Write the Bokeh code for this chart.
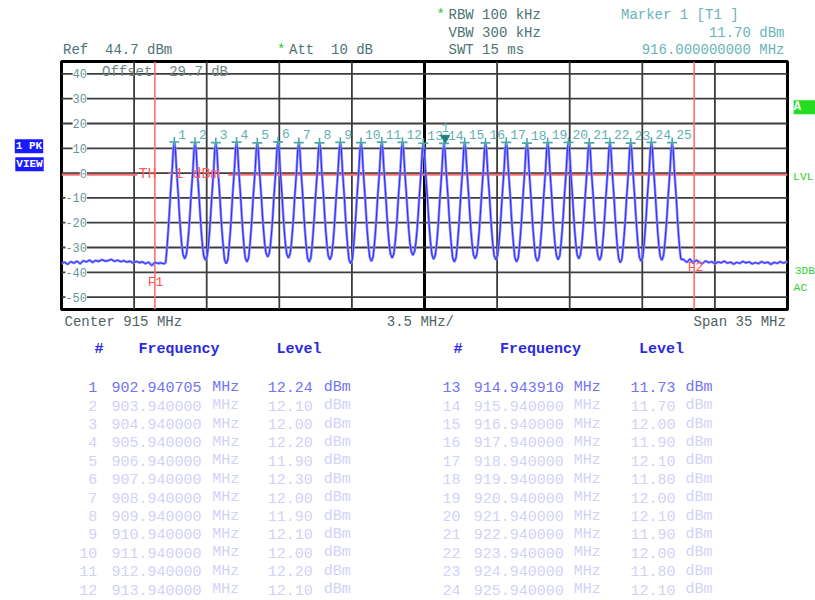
from bokeh.plotting import figure
from bokeh.models import Label, Span, Range1d
from bokeh.layouts import column, row
from bokeh.core.properties import value
from bokeh.embed import file_html
from bokeh.resources import INLINE

MONO = "Liberation Mono"
NB = "\u00a0"

# ------------------------------------------------------------------ data
ref_level_dbm = 44.7
bottom_level_dbm = -55.3
center_mhz = 915.0
span_mhz = 35.0
x_grid_mhz = [901.0, 904.5, 908.0, 911.5, 918.5, 922.0, 925.5, 929.0]
center_grid_mhz = [915.0]
y_grid_dbm = [39.7, 29.7, 19.7, 9.7, -0.3, -10.3, -20.3, -30.3, -40.3, -50.3]
y_tick_labels = ["40", "30", "20", "10", "0", "-10", "-20", "-30", "-40", "-50"]
f1_mhz = 902.0
f2_mhz = 928.0
threshold_dbm = -1.0
threshold_gap_mhz = [901.16, 905.53]

marker_names = [str(i) for i in range(1, 26)]
peak_mhz = [902.940705, 903.94, 904.94, 905.94, 906.94, 907.94, 908.94, 909.94,
            910.94, 911.94, 912.94, 913.94, 914.943910, 915.94, 916.94, 917.94,
            918.94, 919.94, 920.94, 921.94, 922.94, 923.94, 924.94, 925.94, 926.94]
peak_dbm = [12.24, 12.10, 12.00, 12.20, 11.90, 12.30, 12.00, 11.90, 12.10, 12.00,
            12.20, 12.10, 11.73, 11.70, 12.00, 11.90, 12.10, 11.80, 12.00, 12.10,
            11.90, 12.00, 11.80, 12.10, 12.00]
delta_marker_mhz = 916.0
delta_marker_dbm = 11.70

# sweep samples around each channel (offset from the channel peak)
pulse_offset_mhz = [-0.42, -0.36, -0.30, -0.25, -0.20, -0.15, -0.10, -0.05, 0.0,
                    0.05, 0.10, 0.15, 0.20, 0.25, 0.30, 0.36, 0.42]
pulse_dbm = [
    [-36.4, -31.0, -23.8, -17.6, -10.4, -4.2, 1.8, 9.6, 12.24, 9.5, 1.6, -4.4, -10.6, -17.8, -23.6, -29.4, -33.2],
    [-33.2, -29.2, -23.4, -17.2, -10.2, -4.4, 1.6, 9.4, 12.10, 9.4, 1.4, -4.6, -10.8, -17.6, -23.8, -29.8, -33.8],
    [-33.8, -29.6, -23.6, -17.4, -10.6, -4.6, 1.4, 9.3, 12.00, 9.3, 1.5, -4.5, -10.6, -17.8, -24.0, -30.2, -35.2],
    [-35.2, -30.0, -23.8, -17.6, -10.4, -4.3, 1.6, 9.5, 12.20, 9.5, 1.6, -4.4, -10.4, -17.4, -23.6, -29.8, -34.5],
    [-34.5, -29.6, -23.4, -17.2, -10.2, -4.5, 1.4, 9.2, 11.90, 9.2, 1.3, -4.6, -10.6, -17.6, -23.2, -29.0, -32.5],
    [-32.5, -28.8, -23.0, -17.0, -10.0, -4.2, 1.8, 9.6, 12.30, 9.7, 1.7, -4.3, -10.4, -17.4, -23.4, -29.2, -32.9],
    [-32.9, -29.0, -23.2, -17.4, -10.4, -4.4, 1.5, 9.3, 12.00, 9.3, 1.5, -4.5, -10.6, -17.8, -23.8, -29.9, -34.5],
    [-34.5, -29.8, -23.6, -17.6, -10.6, -4.6, 1.3, 9.2, 11.90, 9.2, 1.4, -4.5, -10.5, -17.6, -23.6, -29.6, -33.6],
    [-33.6, -29.4, -23.4, -17.2, -10.3, -4.4, 1.6, 9.4, 12.10, 9.4, 1.6, -4.4, -10.6, -17.8, -24.0, -30.2, -35.2],
    [-35.2, -30.0, -23.6, -17.4, -10.4, -4.5, 1.5, 9.3, 12.00, 9.3, 1.4, -4.6, -10.6, -17.6, -23.8, -29.8, -34.2],
    [-34.2, -29.6, -23.4, -17.2, -10.2, -4.3, 1.7, 9.5, 12.20, 9.5, 1.7, -4.3, -10.4, -17.4, -23.4, -29.2, -32.9],
    [-32.9, -28.8, -23.0, -17.0, -10.2, -4.4, 1.6, 9.4, 12.10, 9.4, 1.5, -4.4, -10.4, -17.2, -23.0, -28.6, -31.8],
    [-31.8, -28.4, -23.0, -17.2, -10.6, -4.8, 1.2, 9.0, 11.73, 9.0, 1.2, -4.8, -10.8, -17.6, -23.6, -29.4, -33.4],
    [-33.4, -29.4, -23.6, -17.6, -10.8, -4.8, 1.1, 9.0, 11.70, 9.0, 1.1, -4.9, -10.8, -17.8, -23.8, -29.8, -34.5],
    [-34.5, -29.8, -23.6, -17.4, -10.5, -4.5, 1.5, 9.3, 12.00, 9.3, 1.5, -4.5, -10.5, -17.4, -23.4, -29.2, -33.2],
    [-33.2, -29.2, -23.4, -17.4, -10.6, -4.6, 1.4, 9.2, 11.90, 9.2, 1.4, -4.6, -10.6, -17.6, -23.6, -29.6, -33.6],
    [-33.6, -29.4, -23.4, -17.2, -10.3, -4.3, 1.6, 9.4, 12.10, 9.4, 1.6, -4.3, -10.4, -17.6, -23.8, -29.8, -34.5],
    [-34.5, -29.8, -23.8, -17.8, -10.8, -4.7, 1.2, 9.1, 11.80, 9.1, 1.2, -4.7, -10.8, -17.8, -23.8, -29.8, -34.2],
    [-34.2, -29.6, -23.4, -17.4, -10.5, -4.5, 1.5, 9.3, 12.00, 9.3, 1.5, -4.5, -10.5, -17.6, -23.6, -29.6, -33.6],
    [-33.6, -29.2, -23.2, -17.2, -10.3, -4.4, 1.6, 9.4, 12.10, 9.4, 1.6, -4.4, -10.4, -17.4, -23.4, -29.2, -33.2],
    [-33.2, -29.2, -23.4, -17.4, -10.6, -4.6, 1.4, 9.2, 11.90, 9.2, 1.4, -4.6, -10.6, -17.6, -23.6, -29.6, -33.8],
    [-33.8, -29.6, -23.6, -17.4, -10.5, -4.5, 1.5, 9.3, 12.00, 9.3, 1.5, -4.5, -10.6, -17.8, -24.0, -30.2, -34.8],
    [-34.8, -29.8, -23.8, -17.8, -10.8, -4.7, 1.2, 9.1, 11.80, 9.1, 1.2, -4.7, -10.7, -17.6, -23.6, -29.8, -34.2],
    [-34.2, -29.6, -23.4, -17.2, -10.3, -4.3, 1.6, 9.4, 12.10, 9.4, 1.6, -4.4, -10.4, -17.4, -23.6, -29.6, -33.8],
    [-33.8, -29.4, -23.4, -17.4, -10.5, -4.5, 1.5, 9.3, 12.00, 9.3, 1.5, -4.5, -10.6, -17.8, -24.2, -30.6, -35.0],
]
trough_mhz = [903.44, 904.44, 905.44, 906.44, 907.44, 908.44, 909.44, 910.44,
              911.44, 912.44, 913.44, 914.44, 915.44, 916.44, 917.44, 918.44,
              919.44, 920.44, 921.44, 922.44, 923.44, 924.44, 925.44, 926.44]
trough_dbm = [-34.8, -35.4, -36.8, -36.1, -34.1, -34.5, -36.1, -35.2, -36.8, -35.8,
              -34.5, -33.4, -35.0, -36.1, -34.8, -35.2, -36.1, -35.8, -35.2, -34.8,
              -35.4, -36.4, -35.8, -35.4]
floor_left_mhz = [897.5, 897.65, 897.8, 897.95, 898.1, 898.25, 898.4, 898.55, 898.7,
                  898.85, 899.0, 899.15, 899.3, 899.45, 899.6, 899.75, 899.9, 900.05,
                  900.2, 900.35, 900.5, 900.65, 900.8, 900.95, 901.1, 901.25, 901.4,
                  901.55, 901.7, 901.85, 902.0, 902.15, 902.3, 902.45]
floor_left_dbm = [-36.8, -36.2, -37.1, -36.0, -36.6, -35.8, -36.9, -35.6, -36.1, -35.4,
                  -36.3, -35.5, -35.9, -35.2, -35.8, -35.6, -35.1, -35.9, -35.4, -36.0,
                  -35.6, -36.2, -35.8, -36.6, -35.9, -36.4, -36.1, -36.8, -36.2, -37.6,
                  -36.3, -36.7, -36.5, -36.9]
floor_right_mhz = [927.5, 927.65, 927.8, 927.95, 928.1, 928.25, 928.4, 928.55, 928.7,
                   928.85, 929.0, 929.15, 929.3, 929.45, 929.6, 929.75, 929.9, 930.05,
                   930.2, 930.35, 930.5, 930.65, 930.8, 930.95, 931.1, 931.25, 931.4,
                   931.55, 931.7, 931.85, 932.0, 932.15, 932.3, 932.45, 932.5]
floor_right_dbm = [-35.2, -36.3, -34.9, -36.6, -35.4, -36.2, -36.8, -35.7, -36.4, -36.0,
                   -36.9, -36.1, -36.5, -35.8, -36.6, -36.2, -37.0, -36.3, -36.7, -35.9,
                   -36.5, -36.1, -36.9, -36.4, -36.8, -36.0, -36.6, -36.2, -37.1, -36.3,
                   -36.7, -36.0, -36.6, -36.1, -36.4]

# ------------------------------------------------------------------ trace assembly
trace_mhz = list(floor_left_mhz)
trace_dbm = list(floor_left_dbm)
for k in range(len(peak_mhz)):
    for off, lv in zip(pulse_offset_mhz, pulse_dbm[k]):
        trace_mhz.append(peak_mhz[k] + off)
        trace_dbm.append(lv)
    if k < len(trough_mhz):
        trace_mhz.append(trough_mhz[k])
        trace_dbm.append(trough_dbm[k])
trace_mhz += floor_right_mhz
trace_dbm += floor_right_dbm

# ------------------------------------------------------------------ layout geometry (page px)
PAGE_W, PAGE_H = 815, 600
MAIN_X0, MAIN_X1 = 59, 789       # main figure (frame 61..787)
MAIN_Y0, MAIN_Y1 = 59, 311       # main figure (frame 61..309)
FRAME_LEFT, FRAME_BOTTOM = 61, 309


def aux_fig(x0, x1, y0, y1):
    f = figure(width=x1 - x0, height=y1 - y0,
               x_range=Range1d(x0, x1), y_range=Range1d(y1, y0),
               output_backend="svg", toolbar_location=None,
               x_axis_location=None, y_axis_location=None,
               min_border_left=0, min_border_right=0, min_border_top=0, min_border_bottom=0)
    f.grid.visible = False
    f.outline_line_color = None
    f.background_fill_color = "white"
    f.border_fill_color = "white"
    return f


def put(f, text, X, Y, size=14, color="#4d7373", align="left", bold=False, bg=None,
        pad=0, alpha=1.0):
    lab = Label(x=X, y=Y, text=text,
                text_font=MONO, text_font_size=f"{size}px", text_color=color,
                text_align=align, text_baseline="middle", text_alpha=alpha,
                text_font_style="bold" if bold else "normal")
    if bg is not None:
        lab.background_fill_color = bg
        lab.padding = pad
    f.add_layout(lab)


header = aux_fig(0, PAGE_W, 0, MAIN_Y0)
left = aux_fig(0, MAIN_X0, MAIN_Y0, MAIN_Y1)
right = aux_fig(MAIN_X1, PAGE_W, MAIN_Y0, MAIN_Y1)
footer = aux_fig(0, PAGE_W, MAIN_Y1, PAGE_H)

# ------------------------------------------------------------------ main spectrum figure
p = figure(width=MAIN_X1 - MAIN_X0, height=MAIN_Y1 - MAIN_Y0,
           x_range=(center_mhz - span_mhz / 2, center_mhz + span_mhz / 2),
           y_range=(bottom_level_dbm, ref_level_dbm),
           output_backend="svg", toolbar_location=None,
           x_axis_location=None, y_axis_location=None,
           min_border_left=2, min_border_right=2, min_border_top=2, min_border_bottom=2)
p.grid.visible = False
p.outline_line_color = "black"
p.outline_line_width = 3
p.background_fill_color = "white"
p.border_fill_color = "white"

for xv in x_grid_mhz:
    p.add_layout(Span(location=xv, dimension="height", line_color="#3c3c3c",
                      line_width=1.8, level="underlay"))
for xv in center_grid_mhz:
    p.add_layout(Span(location=xv, dimension="height", line_color="black",
                      line_width=3, level="underlay"))
for yv in y_grid_dbm:
    p.add_layout(Span(location=yv, dimension="width", line_color="#3c3c3c",
                      line_width=1.8, level="underlay"))
for fv in (f1_mhz, f2_mhz):
    p.add_layout(Span(location=fv, dimension="height", line_color="#ff6e6e",
                      line_width=1.6, level="underlay"))

p.segment(x0=[center_mhz - span_mhz / 2, threshold_gap_mhz[1]],
          x1=[threshold_gap_mhz[0], center_mhz + span_mhz / 2],
          y0=[threshold_dbm, threshold_dbm], y1=[threshold_dbm, threshold_dbm],
          line_color="#ff7070", line_width=2)

p.line(trace_mhz, trace_dbm, line_color="#8a8aff", line_width=2.6)
p.line(trace_mhz, trace_dbm, line_color="#2a2aff", line_width=1)

p.scatter(peak_mhz, peak_dbm, marker="cross", size=10, line_color="#4fa8a8", line_width=1.6)
p.text(x=peak_mhz, y=peak_dbm, text=marker_names, x_offset=4, y_offset=-8,
       text_font=value(MONO), text_font_size="13px", text_color="#5fb0b0",
       text_baseline="middle", text_align="left")
p.scatter([delta_marker_mhz], [delta_marker_dbm + 2.2], marker="inverted_triangle",
          size=9, fill_color="#1f8080", line_color="#1f8080")
p.text(x=[delta_marker_mhz], y=[delta_marker_dbm], text=["1"], y_offset=-16,
       text_font=value(MONO), text_font_size="12px", text_color="#5fb0b0",
       text_baseline="middle", text_align="center")


def put_main(text, X, Y, size=14, color="#4d7373", align="center"):
    p.add_layout(Label(x=X - FRAME_LEFT, y=FRAME_BOTTOM - Y, x_units="screen", y_units="screen",
                       text=text, text_font=MONO, text_font_size=f"{size}px",
                       text_color=color, text_align=align, text_baseline="middle"))


for yv, lab in zip(y_grid_dbm, y_tick_labels):
    p.add_layout(Label(x=86.5 - FRAME_LEFT, y=yv, x_units="screen", y_units="data",
                       text=lab, text_font=MONO, text_font_size="12px",
                       text_color="#6a9595", text_align="right", text_baseline="middle",
                       background_fill_color="white"))

p.add_layout(Label(x=threshold_gap_mhz[0] + 0.05, y=threshold_dbm, text=f"TH -1 dBm",
                   text_font=MONO, text_font_size="15px", text_color="#ff5a5a",
                   text_align="left", text_baseline="middle"))
put_main("F1", 155, 281.5, size=13, color="#ff5050")
put_main("F2", 695, 266.5, size=13, color="#ff5050")
put_main(f"Offset {NB}29.7 dB", 101.5, 71.7, color="#6f8585", align="left")

# ------------------------------------------------------------------ header texts
put(header, f"Ref {NB}44.7 dBm", 62.5, 49)
put(header, "*", 276.5, 49, color="#22cc22")
put(header, f"Att {NB}10 dB", 288.5, 49)
put(header, "*", 436, 14, color="#22cc22")
put(header, "RBW 100 kHz", 448, 14)
put(header, "VBW 300 kHz", 448, 32.3)
put(header, "SWT 15 ms", 448, 49.3)
put(header, "Marker 1 [T1 ]", 620.5, 14, color="#6ab4b4")
put(header, "11.70 dBm", 784, 32, color="#6ab4b4", align="right")
put(header, "916.000000000 MHz", 784, 49, color="#6ab4b4", align="right")

# ------------------------------------------------------------------ side indicators
put(left, "1 PK", 28.5, 145, size=11, color="white", align="center", bold=True, bg="#1a1aff", pad=1)
put(left, "VIEW", 29, 163.3, size=11, color="white", align="center", bold=True, bg="#1a1aff", pad=1)
put(right, " A ", 804, 105.4, size=12, color="white", align="center", bold=True, bg="#22dd22", pad=0)
put(right, "LVL", 792.5, 176, size=11.5, color="#30cc30")
put(right, "3DB", 794.5, 271.7, size=11, color="#30cc30")
put(right, "AC", 793, 288.3, size=11.5, color="#30cc30")

# ------------------------------------------------------------------ footer: axis notes + marker table
put(footer, "Center 915 MHz", 64, 321.7, color="#4f6262")
put(footer, "3.5 MHz/", 453.5, 321.7, color="#4f6262", align="right")
put(footer, "Span 35 MHz", 693, 321.7, color="#4f6262")

for hdr_hash, hdr_freq, hdr_lvl in ((94, 138, 276), (453, 499.5, 638.5)):
    put(footer, "#", hdr_hash, 349, size=15, color="#2b2bdc", bold=True)
    put(footer, "Frequency", hdr_freq, 349, size=15, color="#2b2bdc", bold=True)
    put(footer, "Level", hdr_lvl, 349, size=15, color="#2b2bdc", bold=True)

cols = ((96.7, 111, 211.7, 267.3, 323.3), (460, 473.3, 573.3, 630, 685))
for t, (xn, xf, xu, xl, xd) in enumerate(cols):
    for r in range(12):
        i = t * 12 + r
        Y = 386.7 + 18.4 * r
        col = "#7474f2" if r == 0 else "#d2d2f8"
        put(footer, marker_names[i], xn, Y, size=15, color=col, align="right")
        put(footer, f"{peak_mhz[i]:.6f}", xf, Y, size=15, color=col)
        put(footer, "MHz", xu, Y, size=15, color=col)
        put(footer, f"{peak_dbm[i]:.2f}", xl, Y, size=15, color=col)
        put(footer, "dBm", xd, Y, size=15, color=col)

layout = column(header, row(left, p, right), footer)
open("out.html", "w").write(file_html(layout, INLINE))
